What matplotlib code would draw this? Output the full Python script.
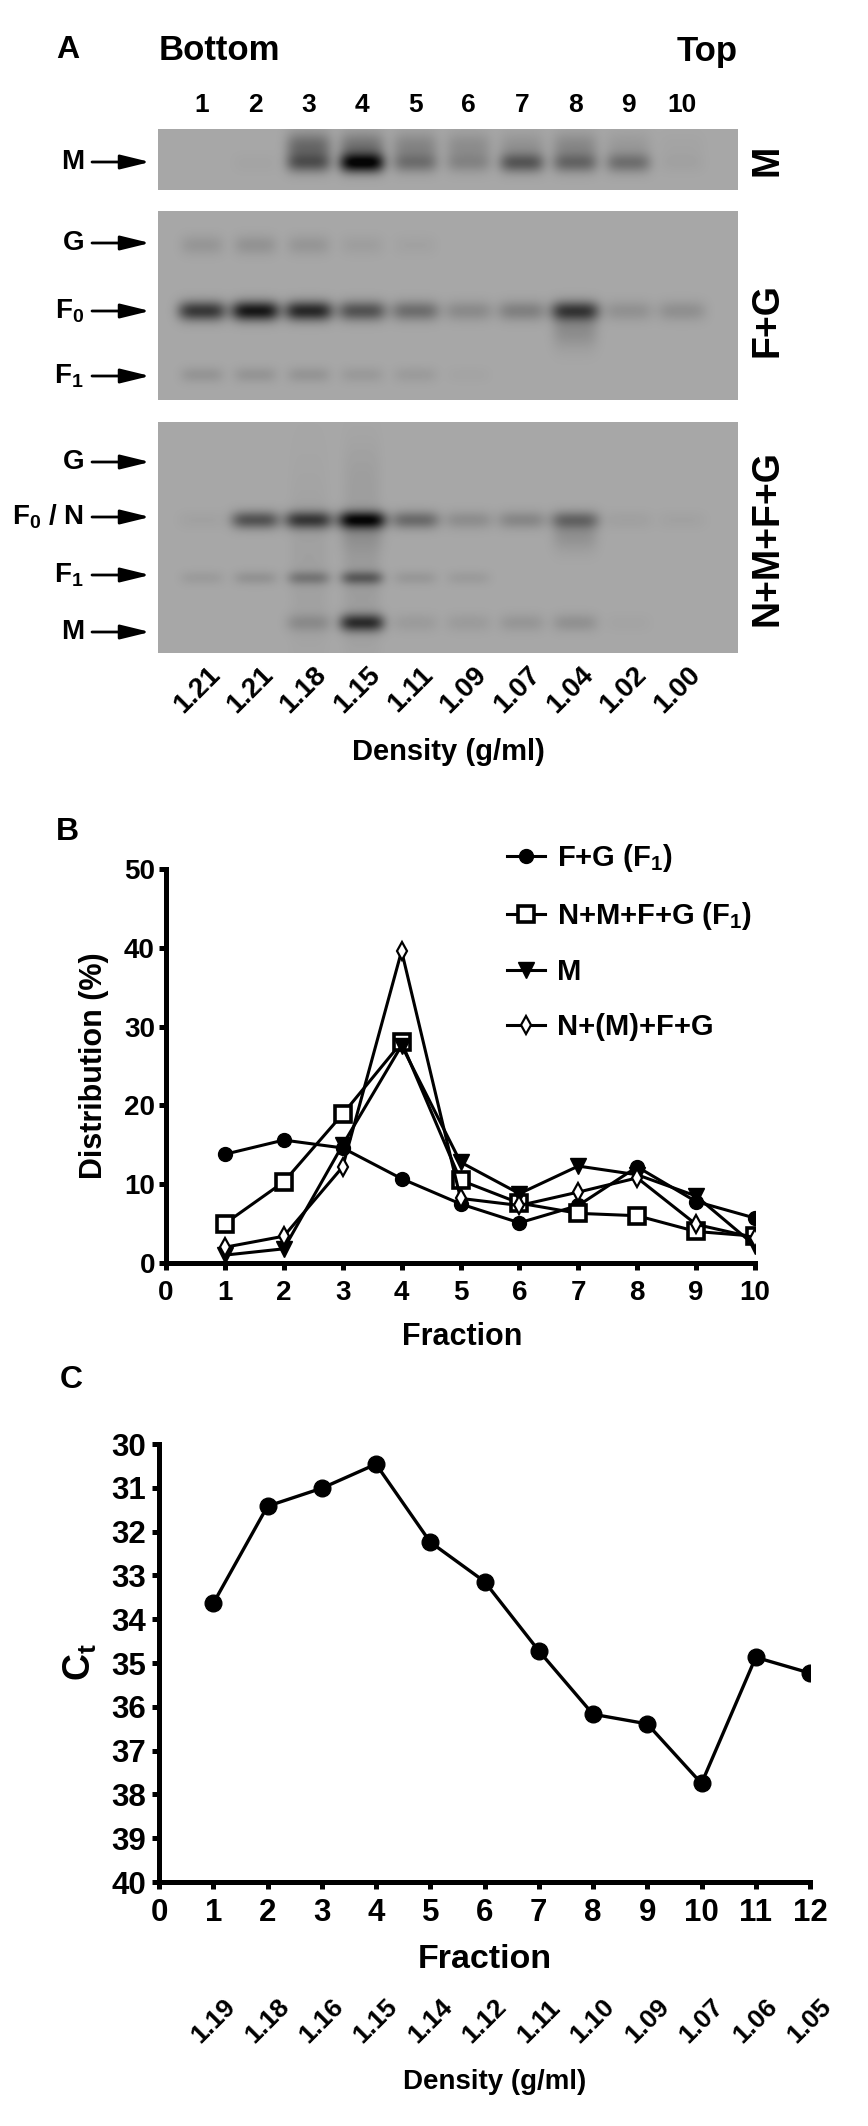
import numpy as np
import matplotlib
matplotlib.use("Agg")
import matplotlib.pyplot as plt
from matplotlib import transforms

plt.rcParams['font.family'] = ['Liberation Sans', 'DejaVu Sans']
plt.rcParams['font.weight'] = 'bold'
plt.rcParams['mathtext.fontset'] = 'custom'
plt.rcParams['mathtext.rm'] = 'Liberation Sans:bold'
plt.rcParams['mathtext.it'] = 'Liberation Sans:bold'
plt.rcParams['mathtext.bf'] = 'Liberation Sans:bold'

# ---- datos: panel A (blots) ----
lanes = np.arange(1, 11)
densidad_A = ["1.21", "1.21", "1.18", "1.15", "1.11", "1.09", "1.07", "1.04", "1.02", "1.00"]
# oscuridad de cada banda por carril (0 = nada, 1 = negro)
m_banda = [0.00, 0.02, 0.45, 0.95, 0.30, 0.18, 0.46, 0.36, 0.32, 0.03]
m_arrastre = [0.00, 0.00, 0.36, 0.30, 0.20, 0.15, 0.12, 0.18, 0.08, 0.02]
fg_G = [0.10, 0.12, 0.10, 0.05, 0.03, 0.00, 0.00, 0.00, 0.00, 0.00]
fg_F0 = [0.66, 0.86, 0.76, 0.50, 0.34, 0.17, 0.23, 0.64, 0.13, 0.14]
fg_F0_cola = [0.00, 0.00, 0.00, 0.00, 0.00, 0.00, 0.00, 0.16, 0.00, 0.00]
fg_F1 = [0.11, 0.11, 0.11, 0.08, 0.07, 0.02, 0.00, 0.00, 0.00, 0.00]
n_G = [0.00, 0.00, 0.00, 0.02, 0.00, 0.00, 0.00, 0.00, 0.00, 0.00]
n_F0 = [0.03, 0.50, 0.64, 0.90, 0.36, 0.15, 0.19, 0.36, 0.04, 0.03]
n_F0_cola = [0.00, 0.00, 0.00, 0.08, 0.00, 0.00, 0.00, 0.13, 0.00, 0.00]
n_F1 = [0.07, 0.12, 0.26, 0.40, 0.09, 0.07, 0.00, 0.00, 0.00, 0.00]
n_M = [0.00, 0.00, 0.15, 0.70, 0.07, 0.07, 0.10, 0.13, 0.02, 0.00]
n_vertical = [0.00, 0.00, 0.04, 0.07, 0.00, 0.00, 0.00, 0.00, 0.00, 0.00]

# ---- datos: panel B ----
fraccion_B = np.arange(1, 11)
fg_f1 = [13.8, 15.6, 14.6, 10.7, 7.5, 5.1, 7.3, 12.2, 7.8, 5.7]
nmfg_f1 = [5.0, 10.3, 18.9, 28.0, 10.5, 7.6, 6.3, 6.0, 4.0, 3.4]
m_dist = [1.0, 1.8, 15.0, 27.6, 12.8, 8.8, 12.3, 11.2, 8.5, 2.2]
nmfg = [2.0, 3.4, 12.2, 39.6, 8.2, 7.3, 9.0, 10.8, 4.9, 3.2]
leyenda_B = ["F+G (F$_1$)", "N+M+F+G (F$_1$)", "M", "N+(M)+F+G"]

# ---- datos: panel C ----
fraccion_C = np.arange(1, 13)
ct = [33.64, 31.42, 31.01, 30.46, 32.24, 33.14, 34.72, 36.17, 36.39, 37.75, 34.87, 35.23]
densidad_C = ["1.19", "1.18", "1.16", "1.15", "1.14", "1.12", "1.11", "1.10", "1.09",
              "1.07", "1.06", "1.05"]

W, H = 868, 2126
fig = plt.figure(figsize=(W / 100, H / 100), dpi=100)


def caja(l, t, r, b):
    return [l / W, 1 - b / H, (r - l) / W, (b - t) / H]


# capa de anotaciones en pixeles (origen arriba a la izquierda)
over = fig.add_axes([0, 0, 1, 1], zorder=10)
over.set_xlim(0, W)
over.set_ylim(H, 0)
over.axis("off")
over.patch.set_alpha(0)

# ---- panel A ----
X0, X1 = 158, 738          # bordes del blot en pixeles
L1, L10 = 202, 682         # centro carril 1 y 10
paso = (L10 - L1) / 9
xl = 1 - (L1 - X0) / paso
xr = 10 + (X1 - L10) / paso
FONDO = 0.655


def blot(top, bot, bandas):
    """bandas: lista de (intensidades, centro_y, sigma_y, sigma_x)"""
    ax = fig.add_axes(caja(X0, top, X1, bot))
    ny, nx = int(bot - top) * 2, (X1 - X0) * 2
    ys = np.linspace(top, bot, ny)[:, None]
    xs = np.linspace(xl, xr, nx)[None, :]
    d = np.zeros((ny, nx))
    for inten, yc, sy, wx in bandas:
        for lane, v in zip(lanes, inten):
            if v <= 0:
                continue
            d += v * np.exp(-((xs - lane) / wx) ** 4) * np.exp(-((ys - yc) / sy) ** 2)
    img = FONDO * (1 - np.clip(d, 0, 0.96))
    ax.imshow(img, cmap="gray", vmin=0, vmax=1, aspect="auto",
              extent=(xl, xr, bot, top), interpolation="bilinear")
    ax.set_xlim(xl, xr)
    ax.set_ylim(bot, top)
    ax.axis("off")
    return ax


blot(129, 190, [(m_banda, 163, 10, 0.42), (m_arrastre, 146, 14, 0.42)])
blot(211, 400, [(fg_G, 245, 10, 0.40), (fg_F0, 311, 10, 0.45),
                (fg_F0_cola, 330, 18, 0.42), (fg_F1, 375, 8, 0.40)])
blot(422, 653, [(n_G, 470, 30, 0.35), (n_F0, 520, 9, 0.45), (n_F0_cola, 535, 16, 0.42),
                (n_F1, 578, 7, 0.40), (n_M, 623, 9, 0.42), (n_vertical, 560, 90, 0.35)])

over.text(56, 50, "A", fontsize=23, ha="left", va="center")
over.text(159, 51, "Bottom", fontsize=25, ha="left", va="center")
over.text(738, 51, "Top", fontsize=25, ha="right", va="center")
for lane in lanes:
    xp = L1 + (lane - 1) * paso
    over.text(xp, 105, str(lane), fontsize=19, ha="center", va="center")
    over.text(xp - 5, 690, densidad_A[lane - 1], fontsize=20, ha="center",
              va="center", rotation=45)
over.text(448, 752, "Density (g/ml)", fontsize=21, ha="center", va="center")

flechas = [("M", 162), ("G", 243), ("F$_0$", 311), ("F$_1$", 376),
           ("G", 462), ("F$_0$ / N", 517), ("F$_1$", 575), ("M", 632)]
for txt, yy in flechas:
    over.text(84, yy, txt, fontsize=20, ha="right", va="center")
    over.annotate("", xy=(150, yy), xytext=(92, yy),
                  arrowprops=dict(arrowstyle="-|>,head_length=0.9,head_width=0.22",
                                  mutation_scale=20, lw=2, color="black",
                                  shrinkA=0, shrinkB=0))
for txt, yy in [("M", 160), ("F+G", 320), ("N+M+F+G", 538)]:
    over.text(767, yy, txt, fontsize=27, ha="center", va="center", rotation=90)


def estilo(ax, fs, padx, pady):
    for s in ("top", "right"):
        ax.spines[s].set_visible(False)
    for s in ("left", "bottom"):
        ax.spines[s].set_linewidth(3.6)
    ax.tick_params(direction="out", length=5, width=3.6, labelsize=fs)
    ax.tick_params(axis="x", pad=padx)
    ax.tick_params(axis="y", pad=pady)
    for t in ax.get_xticklabels() + ax.get_yticklabels():
        t.set_fontweight("bold")


# ---- panel B ----
axB = fig.add_axes(caja(166, 869, 755, 1263))
lB = []
lB += axB.plot(fraccion_B, fg_f1, "-o", color="black", lw=2.2, ms=10)
lB += axB.plot(fraccion_B, nmfg_f1, "-s", color="black", lw=2.2, ms=11, mfc="white",
               mew=2.6)
lB += axB.plot(fraccion_B, m_dist, "-v", color="black", lw=2.2, ms=11)
lB += axB.plot(fraccion_B, nmfg, "-d", color="black", lw=2.2, ms=9, mfc="white", mew=1.6)
axB.set_xlim(0, 10)
axB.set_ylim(0, 50)
axB.set_xticks(range(0, 11))
axB.set_yticks(range(0, 51, 10))
estilo(axB, 20, 7, 3)
axB.legend(lB, leyenda_B, loc="upper left", bbox_to_anchor=(507 / W, 1 - 842 / H),
           bbox_transform=fig.transFigure, frameon=False,
           handlelength=1.3, handletextpad=0.4, labelspacing=0.9, borderpad=0,
           borderaxespad=0, prop={"weight": "bold", "size": 21})
over.text(56, 832, "B", fontsize=23, ha="left", va="center")
over.text(94, 1066, "Distribution (%)", fontsize=22, ha="center", va="center",
          rotation=90)
over.text(462, 1337, "Fraction", fontsize=22, ha="center", va="center")

# ---- panel C ----
axC = fig.add_axes(caja(159, 1444, 810, 1882))
axC.plot(fraccion_C, ct, "-o", color="black", lw=2.4, ms=12)
axC.set_xlim(0, 12)
axC.set_ylim(40, 30)
axC.set_xticks(range(0, 13))
axC.set_yticks(range(30, 41))
estilo(axC, 22.5, 6.5, 4)
trC = transforms.blended_transform_factory(axC.transData, over.transData)
for f, d in zip(fraccion_C, densidad_C):
    axC.text(f, 2021, d, transform=trC, fontsize=19, ha="center", va="center",
             rotation=45, clip_on=False)
over.text(60, 1380, "C", fontsize=23, ha="left", va="center")
over.text(80, 1662, "C$_t$", fontsize=27, ha="center", va="center", rotation=90)
over.text(485, 1959, "Fraction", fontsize=24.5, ha="center", va="center")
over.text(495, 2082, "Density (g/ml)", fontsize=20, ha="center", va="center")

fig.savefig("out.png", dpi=100)
